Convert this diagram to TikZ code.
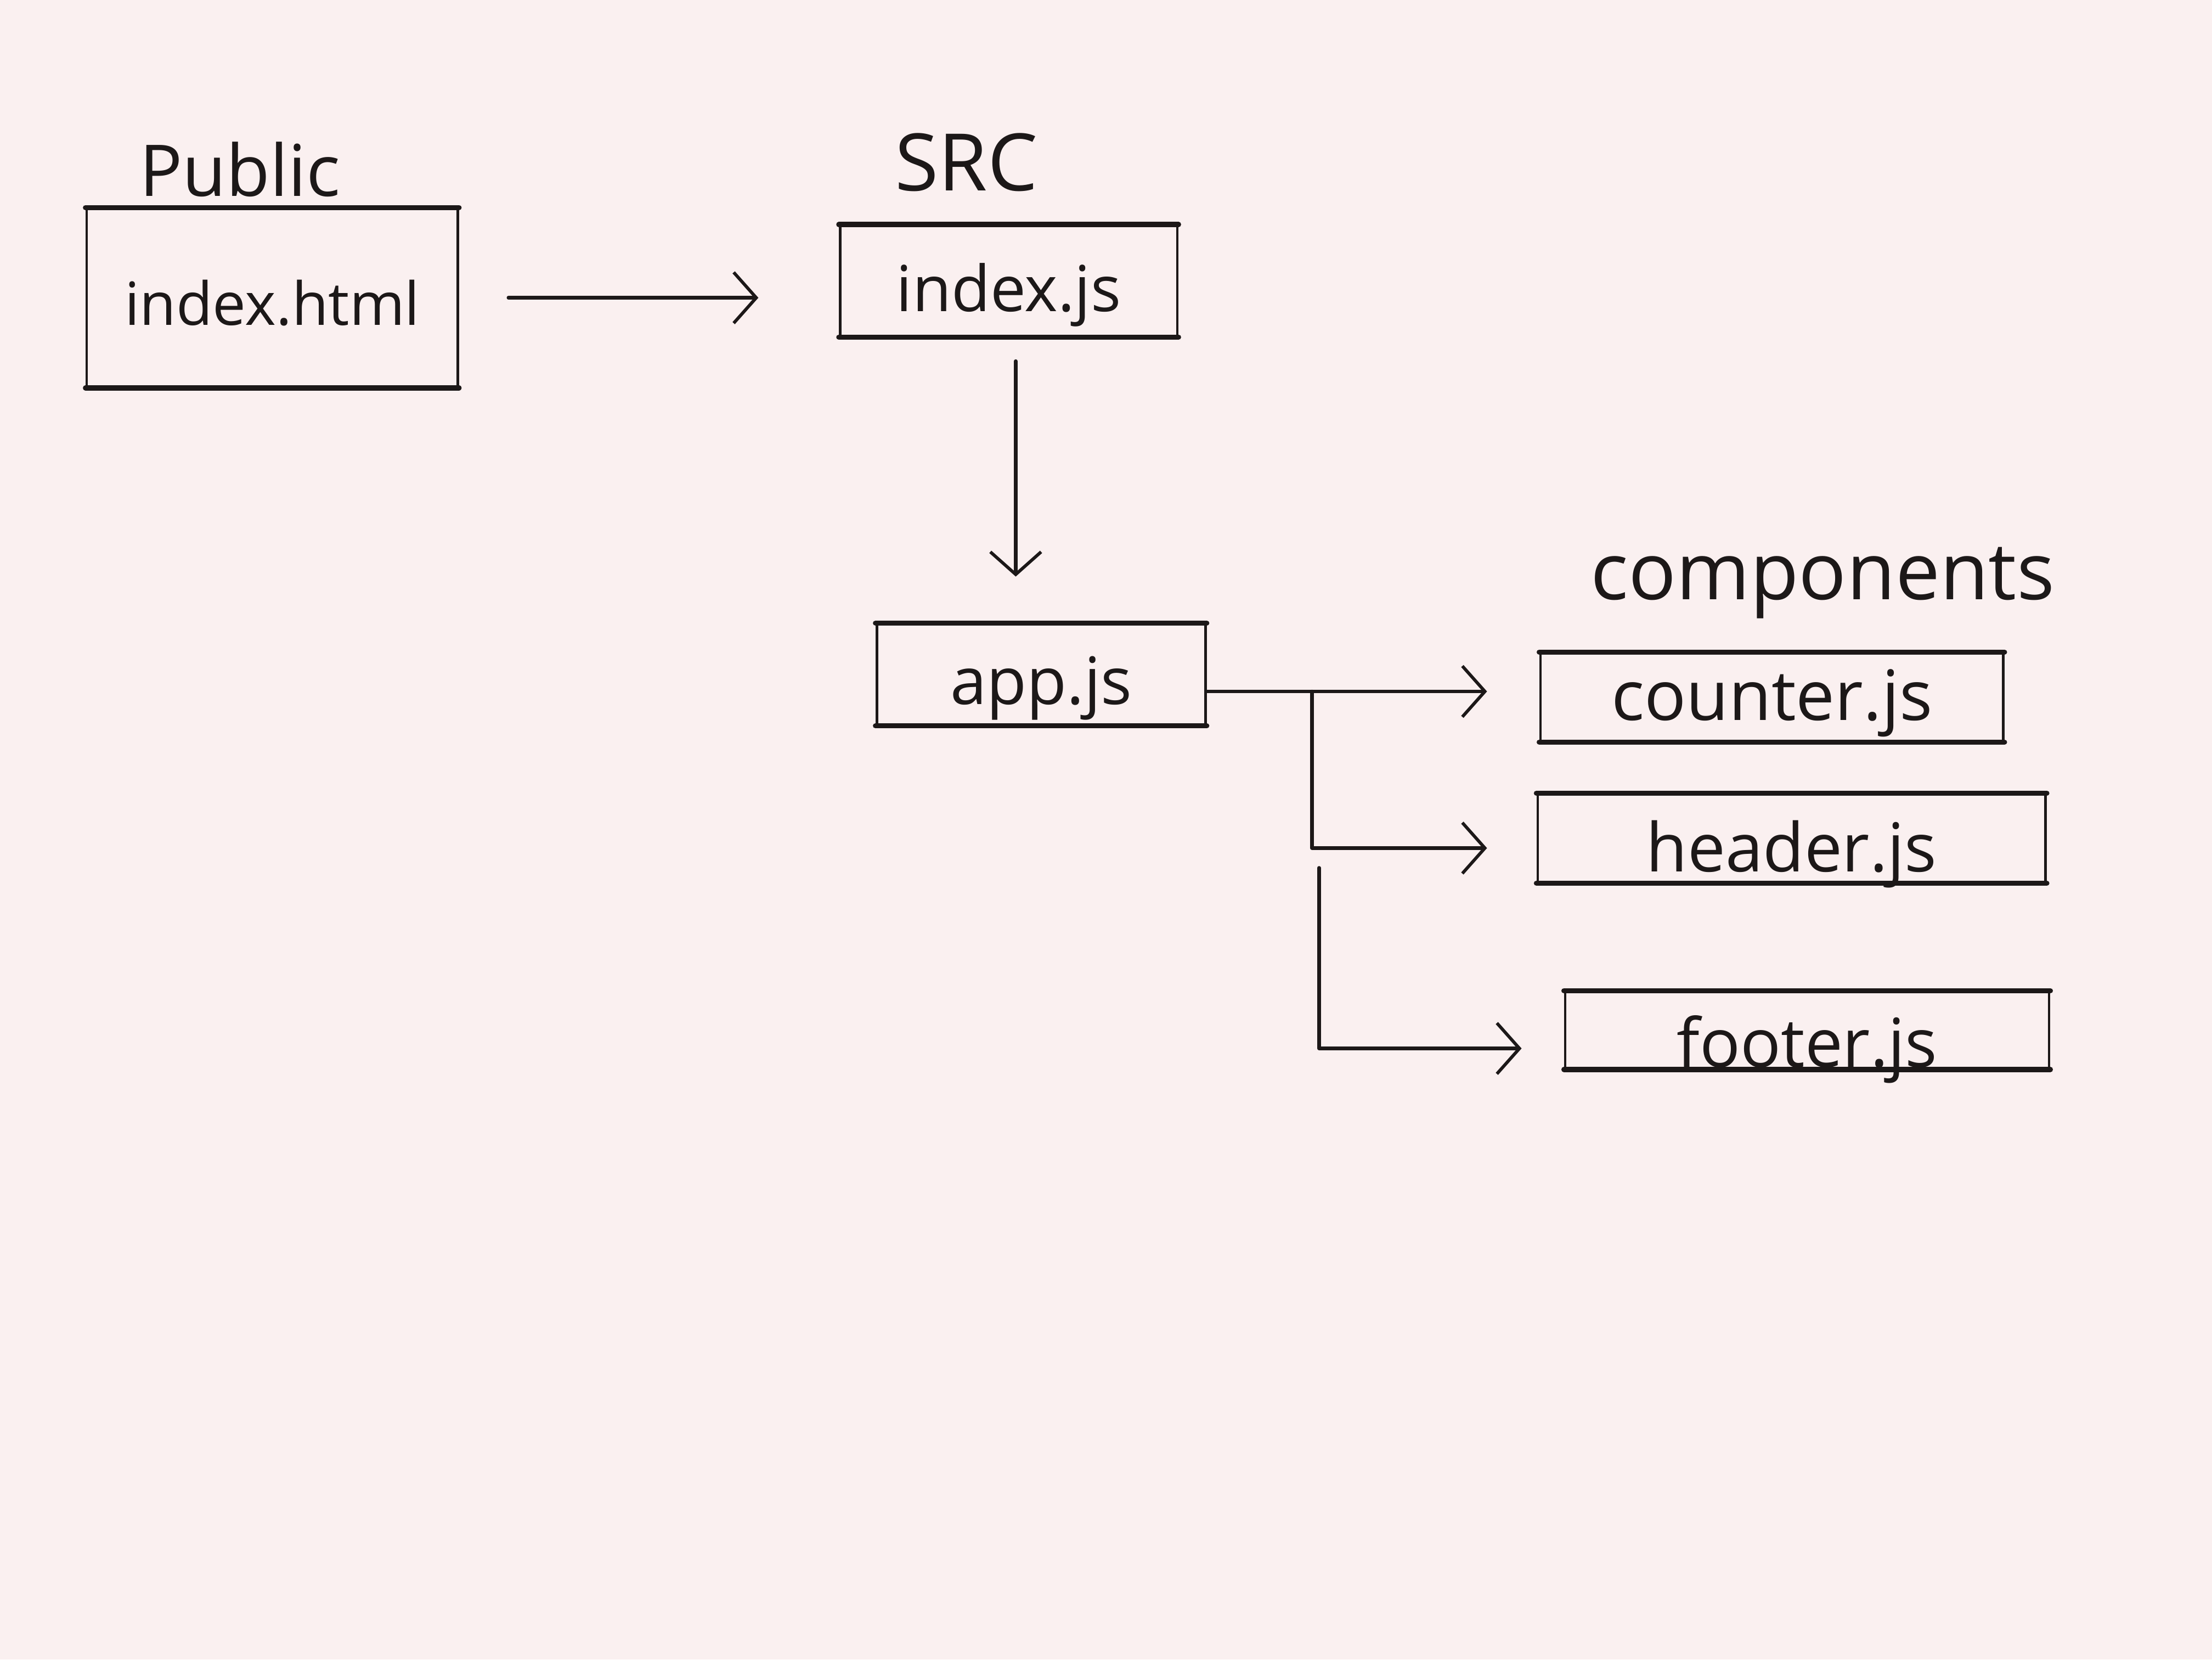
\documentclass[tikz,border=0pt]{standalone}
\usepackage{fontspec}
\setmainfont{Open Sans}
\usetikzlibrary{arrows.meta,calc}
\definecolor{board}{RGB}{250,240,240}
\definecolor{ink}{RGB}{28,24,24}
\newcommand{\fs}[1]{\fontsize{#1}{#1}\selectfont}
\newcommand{\dn}[2]{\raisebox{0pt}[\dimexpr\height+#1\relax][\dimexpr\depth-#1\relax]{#2}}
\tikzset{
  filebox/.style={draw=ink, line width=1.3pt, inner sep=0pt, text=ink},
  lbl/.style={text=ink, inner sep=0pt},
  wire/.style={draw=ink, line width=1.8pt, line cap=round, line join=round},
  arr/.style={wire, -{Straight Barb[length=4mm,width=9mm,line width=1.6pt]}},
  edge/.style={draw=ink, line width=2.6pt, line cap=round}
}
\begin{document}
\begin{tikzpicture}[x=0.25mm,y=-0.25mm]
\fill[board] (0,0) rectangle (1568,1176);
\useasboundingbox (0,0) rectangle (1568,1176);

% labels
\node[lbl] (public) at (170,120) {\fs{36}Public};
\node[lbl] (src) at (685,115) {\fs{40}SRC};
\node[lbl] (comp) at (1292,413) {\fs{40}components};

% boxes
\node[filebox, minimum width=263*0.25mm, minimum height=126*0.25mm] (html) at (193,211) {\dn{5pt}{\fs{30}index.html}};
\node[filebox, minimum width=239*0.25mm, minimum height=78*0.25mm] (srcjs) at (715,199) {\dn{7pt}{\fs{32}index.js}};
\node[filebox, minimum width=233*0.25mm, minimum height=71*0.25mm] (app) at (738,478) {\dn{7pt}{\fs{33}app.js}};
\node[filebox, minimum width=328*0.25mm, minimum height=62*0.25mm] (counter) at (1256,494) {\dn{3pt}{\fs{35}counter.js}};
\node[filebox, minimum width=360*0.25mm, minimum height=62*0.25mm] (header) at (1270,594) {\dn{8pt}{\fs{34}header.js}};
\node[filebox, minimum width=343*0.25mm, minimum height=54*0.25mm] (footer) at (1281,730) {\dn{11pt}{\fs{34}footer.js}};

% heavier top and bottom strokes
\foreach \n in {html,srcjs,app,counter,header,footer}{
  \draw[edge] (\n.north west) -- (\n.north east);
  \draw[edge] (\n.south west) -- (\n.south east);
}

% connectors
\draw[arr, shorten <=35*0.25mm, shorten >=57*0.25mm] (html.east) -- (html.east -| srcjs.west);
\draw[arr, shorten <=17*0.25mm, shorten >=33*0.25mm] ($(srcjs.south)+(5,0)$) -- ($(srcjs.south |- app.north)+(5,0)$);

\coordinate (br1) at (930,490);
\coordinate (br2) at (935,615);
\draw[wire] (app.east |- br1) -- (br1);
\draw[arr, shorten >=37*0.25mm] (br1) -- (counter.west |- br1);
\draw[arr, shorten >=35*0.25mm] (br1) |- ($(header.west)+(0,7)$);
\draw[arr, shorten >=30*0.25mm] (br2) |- ($(footer.west)+(0,13)$);
\end{tikzpicture}
\end{document}
